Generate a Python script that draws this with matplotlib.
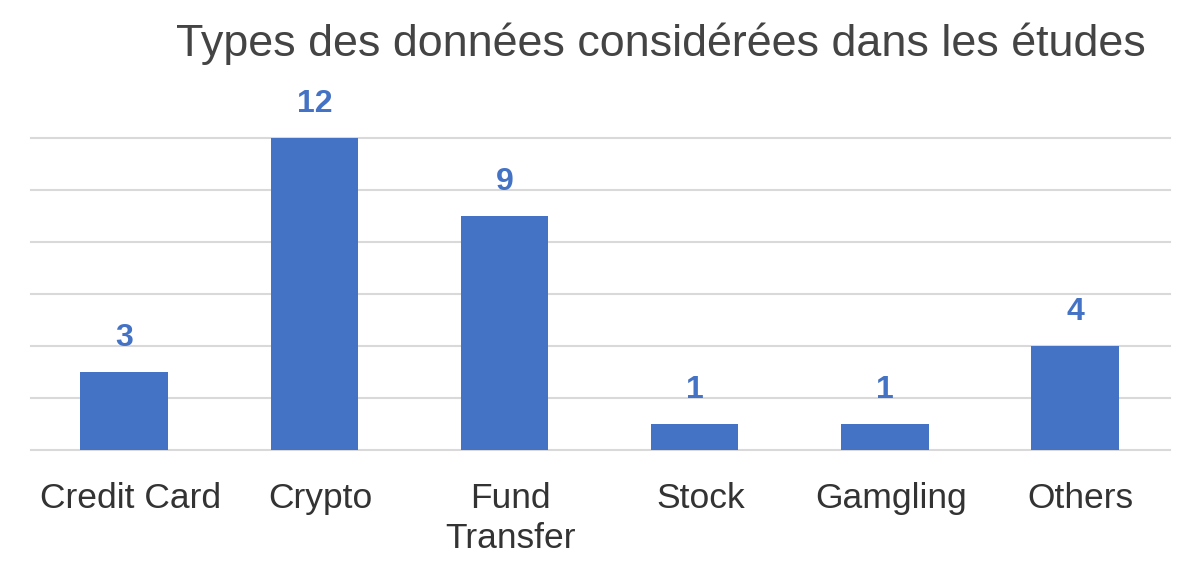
import matplotlib
matplotlib.use("Agg")
import matplotlib.pyplot as plt
from matplotlib.transforms import ScaledTranslation

categories = ["Credit Card", "Crypto", "Fund\nTransfer", "Stock", "Gamgling", "Others"]
counts = [3, 12, 9, 1, 1, 4]
grid_ticks = [0, 2, 4, 6, 8, 10, 12]

BLUE = "#4472C4"

plt.rcParams["font.family"] = ["Liberation Sans", "DejaVu Sans"]

fig = plt.figure(figsize=(12, 5.75), dpi=100)
ax = fig.add_axes([31 / 1200, 125 / 575, 1139 / 1200, 312 / 575])

x = range(len(categories))
ax.bar(x, counts, width=0.46, color=BLUE, zorder=3)

for xi, v in zip(x, counts):
    ax.annotate(str(v), (xi, v), xytext=(0, 14), textcoords="offset points",
                ha="center", va="bottom", fontsize=23, fontweight="bold",
                color=BLUE, annotation_clip=False)

ax.set_xlim(-0.49, 5.5)
ax.set_ylim(0, 12)
ax.set_yticks(grid_ticks)
ax.set_yticklabels([])
ax.grid(axis="y", color="#d9d9d9", linewidth=1.5, zorder=0)
for gl in ax.get_ygridlines():
    gl.set_clip_on(False)
ax.tick_params(axis="both", length=0)
ax.set_xticks(list(x))
ax.set_xticklabels(categories, fontsize=25.5, color="#333333", linespacing=1.27)
ax.tick_params(axis="x", pad=23)
# labels sit a little right of the bar centres in the original
shift = ScaledTranslation(6 / 100, 0, fig.dpi_scale_trans)
for lbl in ax.get_xticklabels():
    lbl.set_transform(lbl.get_transform() + shift)
for s in ax.spines.values():
    s.set_visible(False)

fig.text(661 / 1200, 1 - 44 / 575, "Types des données considérées dans les études",
         ha="center", va="center", fontsize=32.3, color="#444444")

fig.savefig("out.png", dpi=100, facecolor="white")
